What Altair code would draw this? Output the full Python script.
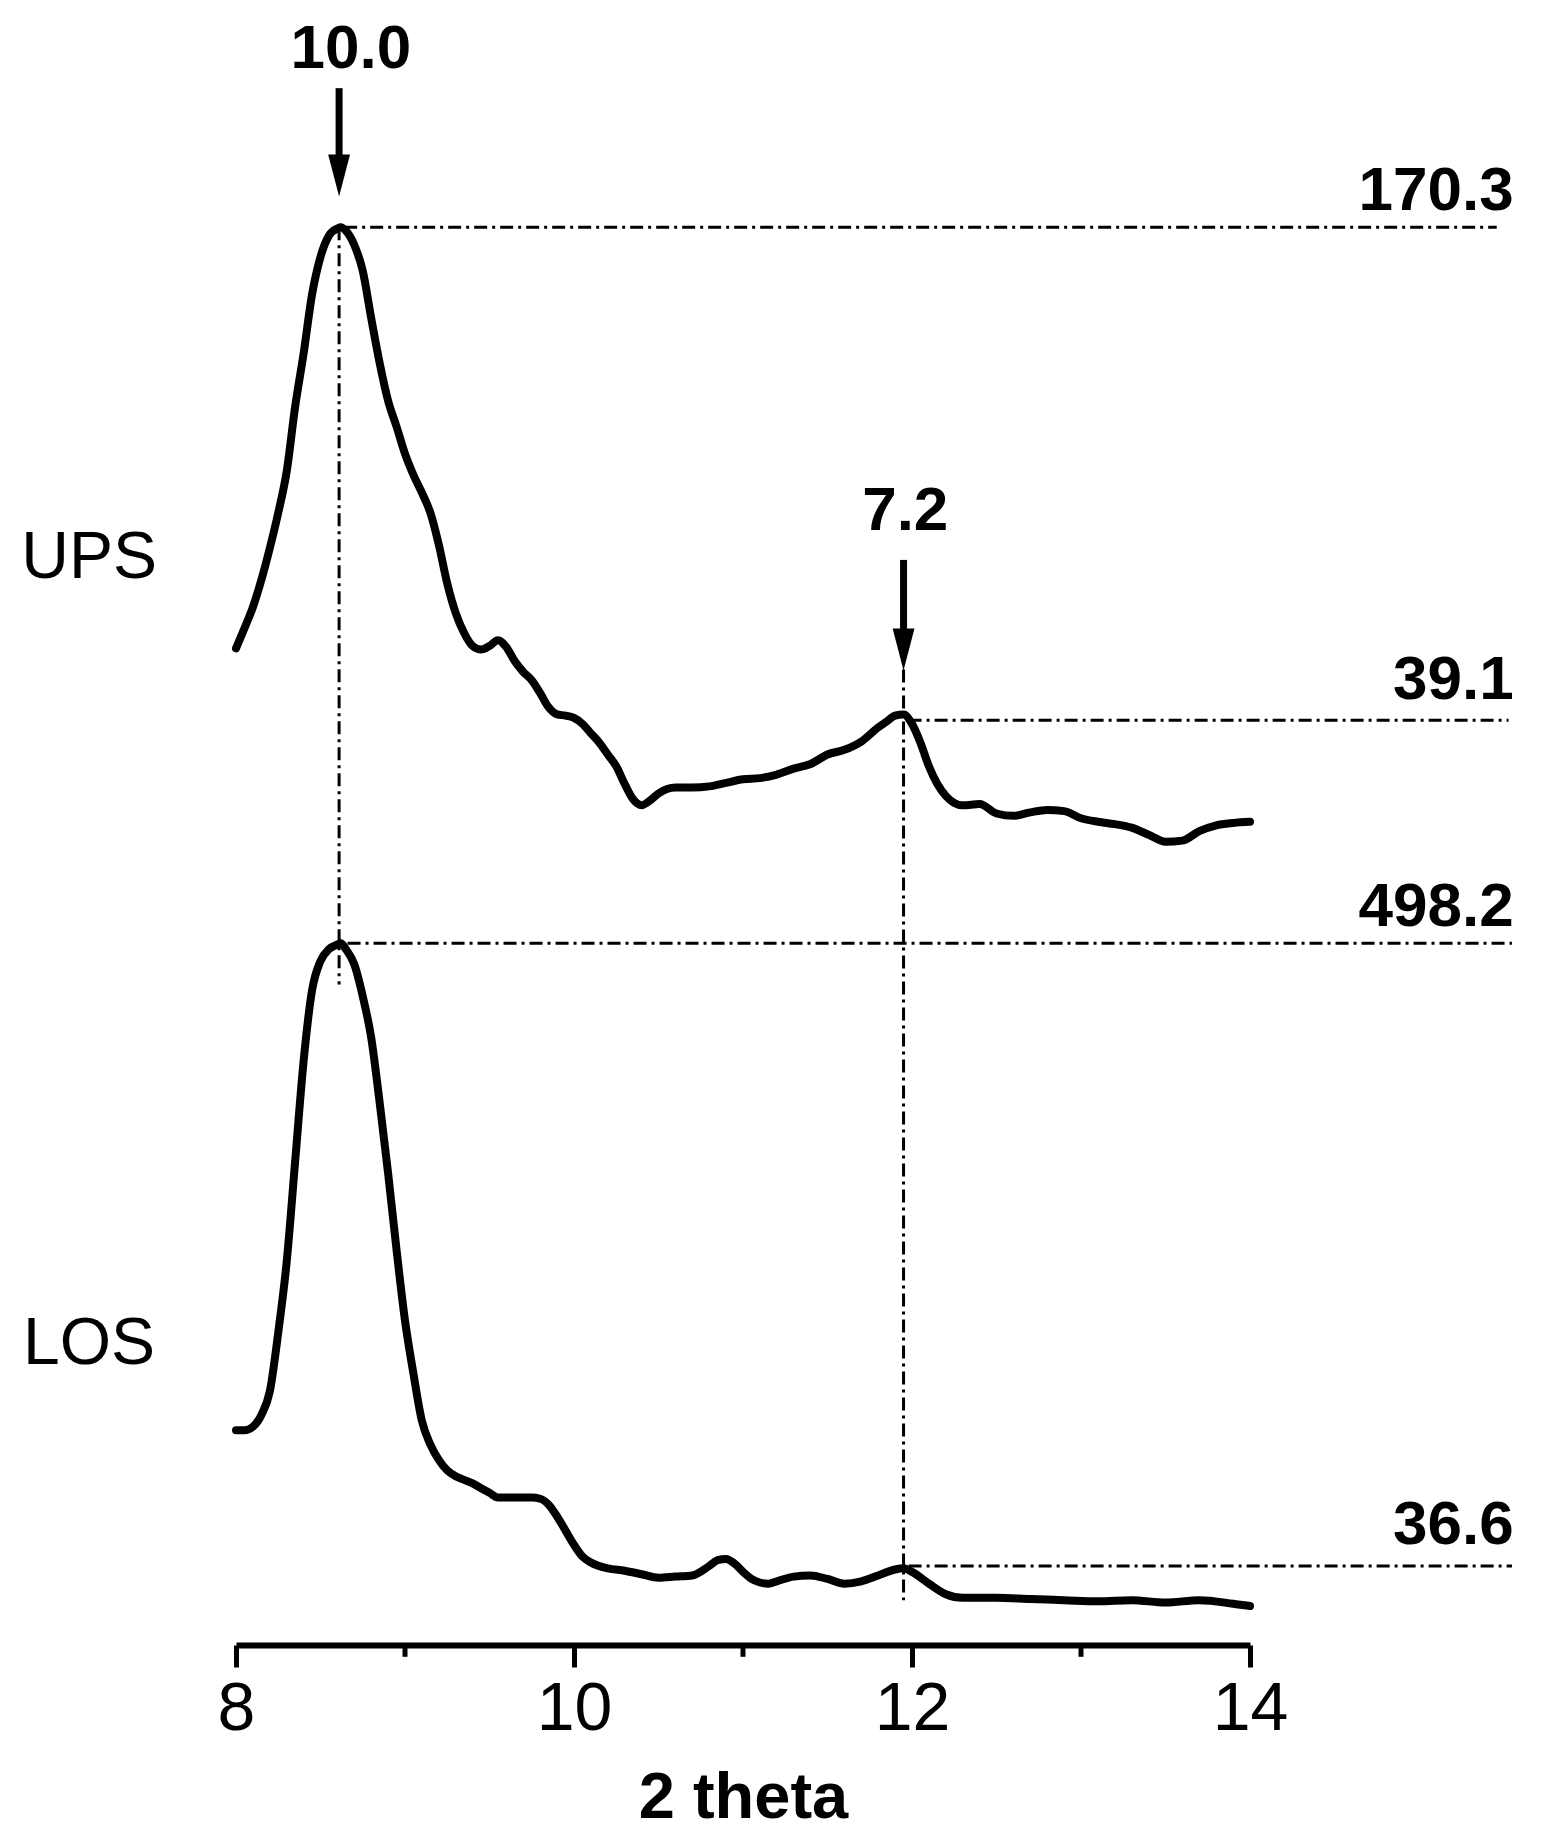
import altair as alt
import pandas as pd

BOLD_FONT = "Liberation Sans, Arial, sans-serif"
REGULAR = "Liberation Sans, Arial, sans-serif"

# ---- UPS pattern (2 theta, intensity offset a.u.) ----
UPS_X = [8.00, 8.05, 8.10, 8.15, 8.20, 8.25, 8.30, 8.35, 8.40, 8.45, 8.50, 8.55, 8.60,
         8.62,
         8.65, 8.70, 8.75, 8.80, 8.85, 8.90, 8.95, 9.00, 9.05, 9.10, 9.15, 9.20, 9.25,
         9.30, 9.35, 9.40, 9.45, 9.50, 9.55, 9.60, 9.65, 9.70, 9.75, 9.80, 9.85, 9.90,
         9.95, 10.00, 10.05, 10.10, 10.15, 10.20, 10.25, 10.30, 10.35, 10.40, 10.45, 10.50,
         10.60, 10.70, 10.80, 10.90, 11.00, 11.10, 11.20, 11.30, 11.40, 11.50, 11.60, 11.70, 11.80,
         11.85, 11.90, 11.95, 12.00, 12.05, 12.10, 12.15, 12.20, 12.25, 12.30,
         12.40, 12.50, 12.60, 12.70, 12.80, 12.90, 13.00, 13.10, 13.20, 13.30, 13.40, 13.50,
         13.60, 13.70, 13.80, 13.90, 14.00]
UPS_Y = [84.5, 86.2, 88.0, 90.3, 93.0, 96.0, 99.5, 105.0, 109.5, 114.5, 117.7, 119.5, 120.1,
         120.2,
         119.9, 118.7, 116.5, 112.5, 108.7, 105.5, 103.3, 101.0, 99.2, 97.7, 96.0, 93.3, 90.0,
         87.5, 85.8, 84.7, 84.4, 84.7, 85.2, 84.6, 83.4, 82.5, 81.8, 80.7, 79.5, 78.9,
         78.8, 78.6, 78.1, 77.3, 76.5, 75.5, 74.5, 73.0, 71.7, 71.2, 71.6, 72.2,
         72.7, 72.7, 72.8, 73.1, 73.4, 73.5, 73.8, 74.3, 74.7, 75.5, 75.9, 76.6, 77.8,
         78.3, 78.8, 78.9, 78.1, 76.5, 74.5, 73.0, 72.0, 71.4, 71.2,
         71.3, 70.5, 70.3, 70.6, 70.8, 70.7, 70.1, 69.8, 69.6, 69.3, 68.7, 68.1,
         68.2, 69.0, 69.5, 69.7, 69.8]

# ---- LOS pattern ----
LOS_X = [8.00, 8.05, 8.10, 8.15, 8.20, 8.25, 8.30, 8.35, 8.40, 8.45, 8.50, 8.55, 8.60,
         8.62, 8.65, 8.70, 8.75, 8.80, 8.85, 8.90, 8.95, 9.00, 9.05, 9.10, 9.15, 9.20,
         9.25, 9.30, 9.35, 9.40, 9.45, 9.50, 9.55, 9.60, 9.70, 9.75, 9.80, 9.85, 9.90,
         9.95, 10.00, 10.05, 10.10, 10.20, 10.30, 10.40, 10.50, 10.60, 10.70, 10.80,
         10.85, 10.90, 10.95, 11.00, 11.05, 11.10, 11.15, 11.20, 11.30, 11.40, 11.50,
         11.60, 11.70, 11.80, 11.90, 11.95, 12.00, 12.10, 12.20, 12.30, 12.50, 12.70,
         12.90, 13.10, 13.30, 13.50, 13.70, 13.90, 14.00]
LOS_Y = [18.2, 18.2, 18.5, 19.5, 21.5, 26.5, 32.5, 41.0, 49.5, 55.5, 58.0, 59.0, 59.4,
         59.5, 59.0, 57.7, 55.0, 51.5, 46.0, 40.0, 33.5, 27.5, 23.0, 19.0, 17.0, 15.7,
         14.8, 14.3, 14.0, 13.7, 13.3, 12.9, 12.5, 12.5, 12.5, 12.5, 12.4, 11.9, 10.9,
         9.7, 8.5, 7.5, 7.0, 6.5, 6.3, 6.0, 5.7, 5.8, 5.9, 6.7,
         7.2, 7.3, 6.9, 6.2, 5.6, 5.3, 5.2, 5.4, 5.8, 5.9, 5.6,
         5.2, 5.4, 5.9, 6.4, 6.5, 6.2, 5.2, 4.3, 4.0, 4.0, 3.9,
         3.8, 3.7, 3.8, 3.6, 3.8, 3.5, 3.3]

# ---- dash-dot guide lines ----
GUIDE_X = [8.64, 11.98, 8.66, 11.98, 8.61, 11.95]
GUIDE_X2 = [15.46, 15.53, 15.55, 15.55, 8.61, 11.95]
GUIDE_Y = [120.2, 78.4, 59.5, 6.7, 120.2, 82.7]
GUIDE_Y2 = [120.2, 78.4, 59.5, 6.7, 56.0, 3.8]

# ---- arrows ----
ARROW_X = [8.61, 11.95]
ARROW_TOP = [132.0, 92.0]
ARROW_SHAFT_END = [125.8, 85.6]
ARROW_HEAD_MID = [124.6, 84.4]

# ---- labels ----
PEAK_TEXT = ["10.0", "7.2"]
PEAK_X = [8.68, 11.96]
PEAK_Y = [133.7, 94.5]

VALUE_TEXT = ["170.3", "39.1", "498.2", "36.6"]
VALUE_X = [15.56, 15.56, 15.56, 15.56]
VALUE_Y = [121.7, 80.2, 61.0, 8.6]

SAMPLE_TEXT = ["UPS", "LOS"]
SAMPLE_X = [6.73, 6.74]
SAMPLE_Y = [90.5, 23.8]

MAJOR_TICKS = [8, 10, 12, 14]
MINOR_TICKS = [9, 11, 13]
MINOR_TICK_TOP = [0.0, 0.0, 0.0]
MINOR_TICK_BOTTOM = [-1.0, -1.0, -1.0]

X_DOMAIN = [8, 14]
Y_DOMAIN = [0, 137.1]

xs = alt.Scale(domain=X_DOMAIN, nice=False, zero=False)
ys = alt.Scale(domain=Y_DOMAIN, nice=False, zero=False)

curves = pd.DataFrame(
    {"x": UPS_X + LOS_X,
     "y": UPS_Y + LOS_Y,
     "sample": ["UPS"] * len(UPS_X) + ["LOS"] * len(LOS_X)}
)

x_axis = alt.Axis(
    values=MAJOR_TICKS, format="d", grid=False,
    domainColor="black", domainWidth=6,
    tickColor="black", tickWidth=5, tickSize=22,
    labelFont=REGULAR, labelFontSize=68, labelColor="black", labelPadding=8,
    labelFlush=False, labelOverlap=False,
    title="2 theta", titleFont=BOLD_FONT, titleFontSize=65, titleFontWeight="bold",
    titleColor="black", titlePadding=23,
)

lines = alt.Chart(curves).mark_line(
    color="black", strokeWidth=8, interpolate="monotone", strokeCap="round", strokeJoin="round"
).encode(detail="sample:N")

guides = alt.Chart(pd.DataFrame({"x": GUIDE_X, "x2": GUIDE_X2, "y": GUIDE_Y, "y2": GUIDE_Y2})).mark_rule(
    color="black", strokeWidth=3, strokeDash=[13, 5, 3, 5]
).encode(x2="x2:Q", y2="y2:Q")

shafts = alt.Chart(pd.DataFrame({"x": ARROW_X, "y": ARROW_TOP, "y2": ARROW_SHAFT_END})).mark_rule(
    color="black", strokeWidth=7
).encode(y2="y2:Q")

heads = alt.Chart(pd.DataFrame({"x": ARROW_X, "y": ARROW_HEAD_MID})).mark_point(
    shape="M -0.52 -1 L 0.52 -1 L 0 1 Z", filled=True, color="black", opacity=1, size=1764
)

minor = alt.Chart(pd.DataFrame({"x": MINOR_TICKS, "y": MINOR_TICK_TOP, "y2": MINOR_TICK_BOTTOM})).mark_rule(
    color="black", strokeWidth=5
).encode(y2="y2:Q")

peak_labels = alt.Chart(pd.DataFrame({"x": PEAK_X, "y": PEAK_Y, "t": PEAK_TEXT})).mark_text(
    font=BOLD_FONT, fontSize=62, fontWeight="bold", color="black", align="center", baseline="alphabetic"
).encode(text="t:N")

value_labels = alt.Chart(pd.DataFrame({"x": VALUE_X, "y": VALUE_Y, "t": VALUE_TEXT})).mark_text(
    font=BOLD_FONT, fontSize=62, fontWeight="bold", color="black", align="right", baseline="alphabetic"
).encode(text="t:N")

sample_labels = alt.Chart(pd.DataFrame({"x": SAMPLE_X, "y": SAMPLE_Y, "t": SAMPLE_TEXT})).mark_text(
    font=REGULAR, fontSize=66, color="black", align="left", baseline="alphabetic"
).encode(text="t:N")

chart = alt.layer(
    guides, shafts, heads, minor, lines, peak_labels, value_labels, sample_labels
).encode(
    x=alt.X("x:Q", scale=xs, axis=x_axis),
    y=alt.Y("y:Q", scale=ys, axis=None),
).properties(
    width=1014, height=1617,
    padding={"left": 228, "top": 20, "right": 284, "bottom": 190},
    autosize=alt.AutoSizeParams(type="none"),
    background="white",
).configure_view(strokeWidth=0)

chart.save("out.html", embed_options={"renderer": "svg", "actions": False})
